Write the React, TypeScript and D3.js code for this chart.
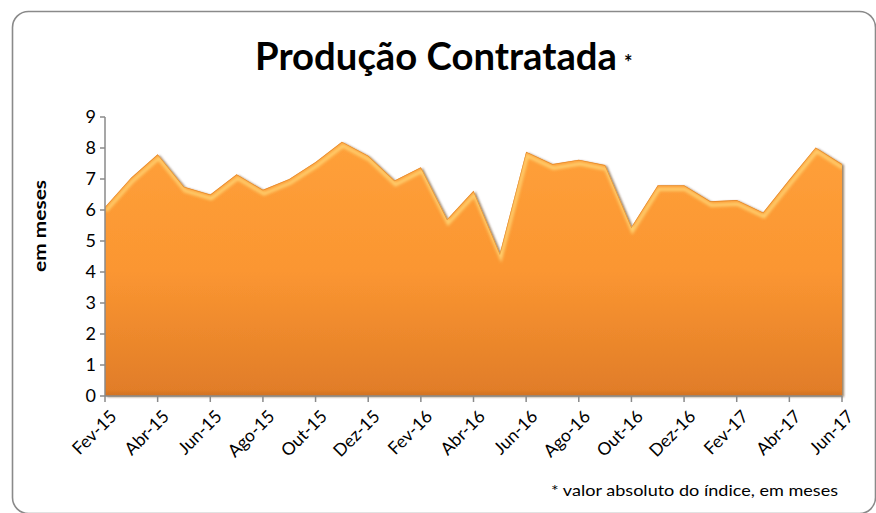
import React from "react";
import * as d3 from "d3";

const months = [
  "Fev-15","Mar-15","Abr-15","Mai-15","Jun-15","Jul-15","Ago-15","Set-15","Out-15","Nov-15","Dez-15",
  "Jan-16","Fev-16","Mar-16","Abr-16","Mai-16","Jun-16","Jul-16","Ago-16","Set-16","Out-16","Nov-16","Dez-16",
  "Jan-17","Fev-17","Mar-17","Abr-17","Mai-17","Jun-17",
];
const values = [
  6.1, 7.05, 7.8, 6.75, 6.5, 7.15, 6.65, 7.0, 7.55, 8.2, 7.75,
  6.95, 7.38, 5.7, 6.62, 4.6, 7.88, 7.48, 7.62, 7.45, 5.45, 6.8, 6.8,
  6.28, 6.32, 5.92, 6.98, 8.02, 7.48,
];
const yTicks = [0, 1, 2, 3, 4, 5, 6, 7, 8, 9];
const title = "Produção Contratada";
const yLabel = "em meses";
const footnote = "* valor absoluto do índice, em meses";

const W = 876, H = 513;
const M = { left: 105, right: 842, top: 117, bottom: 396 };

export default function App() {
  const x = d3.scaleLinear().domain([0, months.length - 1]).range([M.left, M.right]);
  const y = d3.scaleLinear().domain([0, 9]).range([M.bottom, M.top]);
  const data = values.map((v, i) => ({ i, v }));
  const area = d3.area<{ i: number; v: number }>().x(d => x(d.i)).y0(y(0)).y1(d => y(d.v));
  const line = d3.line<{ i: number; v: number }>().x(d => x(d.i)).y(d => y(d.v));
  const areaD = area(data) || "";
  const lineD = line(data) || "";
  const font = "Lato, 'Open Sans', sans-serif";
  return (
    <svg width={W} height={H} style={{ position: "absolute", left: 0, top: 0 }}>
      <defs>
        <linearGradient id="fillG" x1="0" y1={M.top} x2="0" y2={M.bottom} gradientUnits="userSpaceOnUse">
          <stop offset="0" stopColor="#FFA23C" />
          <stop offset="0.55" stopColor="#FB9631" />
          <stop offset="1" stopColor="#E07C28" />
        </linearGradient>
        <filter id="shadow" x="-5%" y="-5%" width="110%" height="110%">
          <feGaussianBlur in="SourceAlpha" stdDeviation="1.3" />
          <feOffset dx="2" dy="1" result="off" />
          <feFlood floodColor="#5a3005" floodOpacity="0.6" />
          <feComposite in2="off" operator="in" />
          <feMerge>
            <feMergeNode />
            <feMergeNode in="SourceGraphic" />
          </feMerge>
        </filter>
        <filter id="blur" x="-5%" y="-20%" width="110%" height="140%">
          <feGaussianBlur stdDeviation="1.4" />
        </filter>
        <clipPath id="areaClip">
          <path d={areaD} />
        </clipPath>
      </defs>
      <rect x={12.5} y={11.5} width={W - 13} height={H - 11} rx={16} ry={16}
        fill="#fff" stroke="#8a8a8a" strokeWidth={1.6} />
      <text x={255} y={70} fontFamily={font} fontWeight="bold" fontSize={38} fill="#000"
        textLength={362} lengthAdjust="spacingAndGlyphs">{title}</text>
      <text x={624} y={70} fontFamily={font} fontWeight="bold" fontSize={20} fill="#000">*</text>
      <path d={areaD} fill="url(#fillG)" filter="url(#shadow)" />
      <g clipPath="url(#areaClip)">
        <path d={lineD} transform="translate(1,4)" fill="none" stroke="#FFD878" strokeWidth={3.5}
          opacity={0.85} filter="url(#blur)" />
        <path d={lineD} fill="none" stroke="#C86A10" strokeWidth={1.2} opacity={0.5} />
        <rect x={M.left} y={M.bottom - 4} width={M.right - M.left} height={6} fill="#B8621C" opacity={0.3} filter="url(#blur)" />
      </g>
      <line x1={M.left} x2={M.left} y1={M.top} y2={M.bottom} stroke="#8a8a8a" strokeWidth={1.5} />
      <line x1={M.left} x2={M.right} y1={M.bottom} y2={M.bottom} stroke="#8a8a8a" strokeWidth={1.5} />
      {yTicks.map(t => (
        <g key={t}>
          <line x1={M.left - 5} x2={M.left} y1={y(t)} y2={y(t)} stroke="#8a8a8a" strokeWidth={1.5} />
          <text x={M.left - 9} y={y(t)} dy="0.36em" textAnchor="end" fontFamily={font} fontSize={18} fill="#000">{t}</text>
        </g>
      ))}
      {months.map((m, i) => i % 2 === 0 ? (
        <g key={m}>
          <line x1={x(i)} x2={x(i)} y1={M.bottom} y2={M.bottom + 6} stroke="#8a8a8a" strokeWidth={1.5} />
          <text transform={`translate(${x(i) + 4},${M.bottom + 13}) rotate(-45)`} textAnchor="end" dy="0.7em"
            fontFamily={font} fontSize={17.5} fill="#000">{m}</text>
        </g>
      ) : null)}
      <text transform={`translate(46,${226}) rotate(-90)`} textAnchor="middle"
        fontFamily={font} fontWeight="bold" fontSize={17} fill="#000"
        textLength={92} lengthAdjust="spacingAndGlyphs">{yLabel}</text>
      <text x={551} y={496} fontFamily={font} fontSize={16} fill="#000"
        textLength={287} lengthAdjust="spacingAndGlyphs">{footnote}</text>
    </svg>
  );
}
